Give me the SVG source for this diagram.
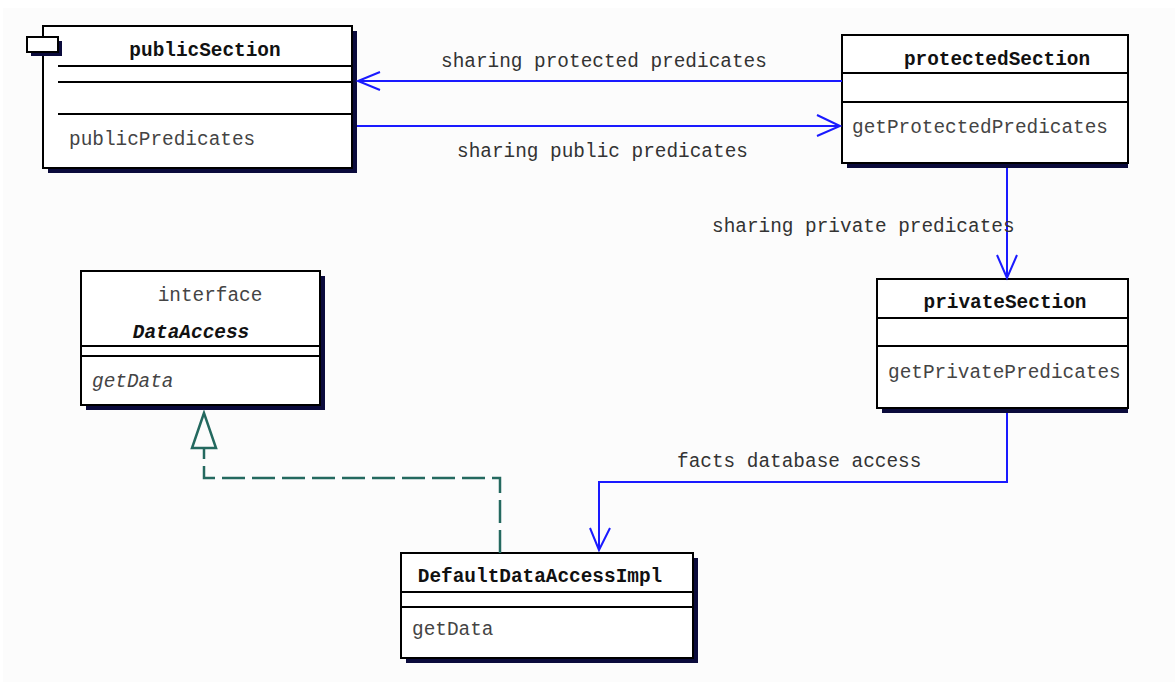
<svg xmlns="http://www.w3.org/2000/svg" width="1175" height="682" viewBox="0 0 1175 682">
<style>
.box{fill:#fff;stroke:#000;stroke-width:2}
.shadow{fill:#0b0b3c}
.sep{stroke:#000;stroke-width:2}
.title{font-family:"Liberation Mono",monospace;font-size:19.4px;font-weight:bold;fill:#111}
.attr{font-family:"Liberation Mono",monospace;font-size:19.4px;fill:#444}
.lbl{font-family:"Liberation Mono",monospace;font-size:19.4px;fill:#333}
.assoc{fill:none;stroke:#1a1aff;stroke-width:2}
.real{fill:none;stroke:#24695f;stroke-width:2.5}
</style>
<rect x="0" y="0" width="1175" height="682" fill="#fff"/>
<rect x="3" y="8" width="1172" height="674" fill="#fcfcfc"/>

<g id="publicSection">
<rect class="shadow" x="48" y="31" width="309" height="142"/>
<rect class="box" x="43" y="26" width="309" height="142"/>
<rect class="shadow" x="31" y="41" width="31" height="15"/>
<rect class="box" x="27" y="37" width="31" height="15"/>
<line class="sep" x1="58" y1="66" x2="352" y2="66"/>
<line class="sep" x1="58" y1="82" x2="352" y2="82"/>
<line class="sep" x1="58" y1="114" x2="352" y2="114"/>
<text class="title" x="205" y="56" text-anchor="middle">publicSection</text>
<text class="attr" x="69" y="145">publicPredicates</text>
</g>

<g id="protectedSection">
<rect class="shadow" x="847" y="40" width="281" height="128"/>
<rect class="box" x="842" y="35" width="286" height="128"/>
<line class="sep" x1="842" y1="73" x2="1128" y2="73"/>
<line class="sep" x1="842" y1="102" x2="1128" y2="102"/>
<text class="title" x="997" y="65" text-anchor="middle">protectedSection</text>
<text class="attr" x="852" y="133">getProtectedPredicates</text>
</g>

<g id="privateSection">
<rect class="shadow" x="882" y="284" width="246" height="129"/>
<rect class="box" x="877" y="279" width="251" height="129"/>
<line class="sep" x1="877" y1="318" x2="1128" y2="318"/>
<line class="sep" x1="877" y1="346" x2="1128" y2="346"/>
<text class="title" x="1005" y="308" text-anchor="middle">privateSection</text>
<text class="attr" x="888" y="378">getPrivatePredicates</text>
</g>

<g id="DataAccess">
<rect class="shadow" x="86" y="276" width="239" height="134"/>
<rect class="box" x="81" y="271" width="239" height="134"/>
<line class="sep" x1="81" y1="346" x2="320" y2="346"/>
<line class="sep" x1="81" y1="356" x2="320" y2="356"/>
<text class="attr" x="210" y="301" text-anchor="middle" fill="#333">interface</text>
<text class="title" x="191" y="338" text-anchor="middle" font-style="italic">DataAccess</text>
<text class="attr" x="92" y="387" font-style="italic">getData</text>
</g>

<g id="DefaultDataAccessImpl">
<rect class="shadow" x="406" y="558" width="292" height="105"/>
<rect class="box" x="401" y="553" width="292" height="105"/>
<line class="sep" x1="401" y1="592" x2="693" y2="592"/>
<line class="sep" x1="401" y1="607" x2="693" y2="607"/>
<text class="title" x="540" y="582" text-anchor="middle">DefaultDataAccessImpl</text>
<text class="attr" x="412" y="635">getData</text>
</g>

<g id="connectors">
<line class="assoc" x1="842" y1="81" x2="358" y2="81"/>
<polyline class="assoc" points="380,72 358,81 380,90"/>
<line class="assoc" x1="357" y1="126" x2="840" y2="126"/>
<polyline class="assoc" points="817,115 840,126 817,136"/>
<line class="assoc" x1="1007" y1="168" x2="1007" y2="278"/>
<polyline class="assoc" points="997,255 1007,278 1017,255"/>
<polyline class="assoc" points="1007,413 1007,482 599,482 599,550"/>
<polyline class="assoc" points="590,528 599,550 610,528"/>
<polyline class="real" points="500,553 500,478 204,478 204,448" stroke-dasharray="23 7"/>
<polygon class="real" points="204,413 192,448 216,448" fill="#fff"/>
<text class="lbl" x="441" y="67">sharing protected predicates</text>
<text class="lbl" x="457" y="157">sharing public predicates</text>
<text class="lbl" x="712" y="232">sharing private predicates</text>
<text class="lbl" x="677" y="467">facts database access</text>
</g>
</svg>
